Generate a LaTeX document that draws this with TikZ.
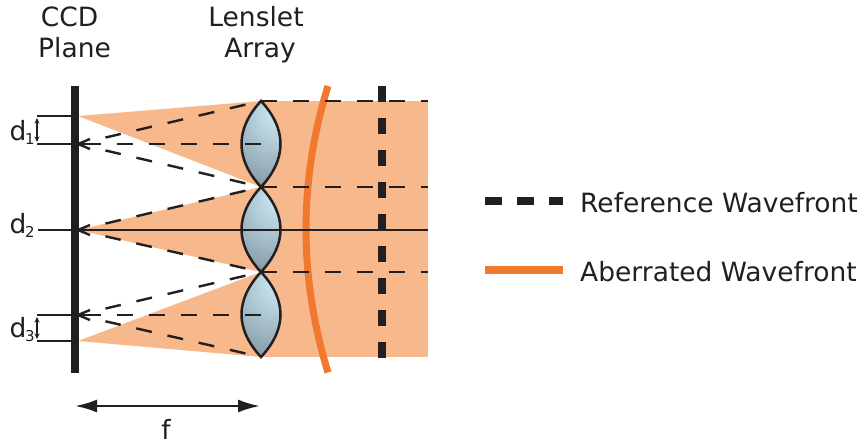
\documentclass[tikz,border=0pt]{standalone}
\usepackage{fontspec}
\setmainfont{DejaVu Sans}
\usetikzlibrary{arrows.meta,calc}
\definecolor{beam}{RGB}{247,184,140}
\definecolor{wave}{RGB}{241,120,47}
\definecolor{ink}{RGB}{35,31,32}
\definecolor{glassL}{RGB}{198,226,238}
\definecolor{glassD}{RGB}{88,106,116}
\pgfdeclareradialshading{glass}{\pgfpoint{12.5bp}{21bp}}{color(0bp)=(glassL); color(6bp)=(glassL); color(60bp)=(glassD); color(90bp)=(glassD)}
\tikzset{
  x=1pt,y=-1pt,
  label/.style={font=\fontsize{26.5}{30}\selectfont,text=ink,inner sep=0pt},
  ray/.style={ink,line width=2.4pt,dash pattern=on 16pt off 16pt},
  slantray/.style={ink,line width=2.4pt,dash pattern=on 16pt off 16pt,dash phase=16pt},
  focus/.style={ink,line width=2.4pt},
  refwave/.style={ink,line width=8pt,dash pattern=on 16pt off 16pt},
  abwave/.style={wave,line width=7pt},
  lensedge/.style={ink,line width=2.5pt},
  gap/.style={ink,line width=1.5pt,{Stealth[length=5.5pt,width=5pt]}-{Stealth[length=5.5pt,width=5pt]}},
}
\newcommand{\lenspath}[2]{(261,#1) .. controls (235,{#1+28}) and (235,{#2-28}) .. (261,#2) .. controls (287,{#2-28}) and (287,{#1+28}) .. (261,#1) -- cycle}
\newcommand{\subfig}[1]{\kern-1.5pt\raisebox{-4.5pt}{\fontsize{15}{15}\selectfont #1}}
\begin{document}
\begin{tikzpicture}
\useasboundingbox (0,0) rectangle (861,444);

% light beams
\fill[beam] (261,101) rectangle (428,357);
\fill[beam] (78,116) -- (261,101) -- (261,187) -- cycle;
\fill[beam] (78,230) -- (261,187) -- (261,272) -- cycle;
\fill[beam] (78,341) -- (261,272) -- (261,357) -- cycle;

% lenslets
\foreach \ya/\yb in {101/187,187/272,272/357}{
  \begin{scope}
    \clip \lenspath{\ya}{\yb};
    \shade[shading=glass] (225,\ya) rectangle (297,\yb);
  \end{scope}
}

% named points on the focal plane and lens vertices
\coordinate (t0) at (261,101);
\coordinate (t1) at (261,187);
\coordinate (t2) at (261,272);
\coordinate (t3) at (261,357);
\coordinate (c1) at (261,144);
\coordinate (c3) at (261,315);
\coordinate (f1) at (78,144);
\coordinate (f2) at (78,230);
\coordinate (f3) at (78,315);

% wavefronts
\draw[abwave] (328,86) .. controls (298.7,181.3) and (298.7,276.7) .. (328,372.5);
\draw[refwave] (382,86) -- (382,358);

% horizontal rays behind the lenslets
\draw[ray] (t0) -- (428,101);
\draw[ray] (t1) -- (428,187);
\draw[ray] (t2) -- (428,272);

% converging rays, each stopping short of its arrowhead
\foreach \a/\b in {t0/f1,t1/f1,t1/f2,t2/f2,t2/f3,t3/f3}{
  \draw[slantray] (\a) -- ($(\a)!0.85!(\b)$);
}
\foreach \a/\b in {c1/f1,c3/f3}{
  \draw[ray] (\a) -- ($(\a)!0.85!(\b)$);
}
\foreach \p in {f1,f2,f3}{
  \draw[focus] (\p) ++(12,-5) -- (\p) -- ++(12,5);
  \draw[focus] (\p) -- ++(23,0);
}

% lenslet outlines
\foreach \ya/\yb in {101/187,187/272,272/357}{
  \draw[lensedge] \lenspath{\ya}{\yb};
}

% axis
\draw[ink,line width=2.4pt] (38,230) -- (428,230);

% CCD plane and spot displacement brackets
\draw[ink,line width=2.4pt] (37,116) -- (72,116);
\draw[ink,line width=2.4pt] (37,144) -- (72,144);
\draw[ink,line width=2.4pt] (37,315) -- (72,315);
\draw[ink,line width=2.4pt] (37,341) -- (72,341);
\fill[ink] (71,86) rectangle (78.5,372.5);
\draw[gap] (37,118) -- (37,142);
\draw[gap] (37,317) -- (37,339);

% focal length
\draw[ink,line width=2.4pt,{Latex[length=22pt,width=13pt]}-{Latex[length=22pt,width=13pt]}] (75,406) -- (260,406);

% labels
\node[label,anchor=base] (ccd1) at (69.5,27) {CCD};
\node[label,anchor=base] (ccd2) at (74.5,58) {Plane};
\node[label,anchor=base] (len1) at (256,27) {Lenslet};
\node[label,anchor=base] (len2) at (260,58) {Array};
\node[label,anchor=base west] (d1) at (9.5,140) {d\subfig{1}};
\node[label,anchor=base west] (d2) at (9.5,233) {d\subfig{2}};
\node[label,anchor=base west] (d3) at (9.5,337) {d\subfig{3}};
\node[label,anchor=base] (f) at (166,439) {f};

% legend
\coordinate (la) at (485,201);
\coordinate (lb) at (563,201);
\coordinate (lc) at (485,270);
\coordinate (ld) at (563,270);
\draw[ink,line width=8pt,dash pattern=on 16.5pt off 15.5pt] (la) -- (lb);
\draw[abwave,line width=8pt] (lc) -- (ld);
\node[label,anchor=base west] (lr) at (580,212) {Reference Wavefront};
\node[label,anchor=base west] (lw) at (580,281) {Aberrated Wavefront};
\end{tikzpicture}
\end{document}
